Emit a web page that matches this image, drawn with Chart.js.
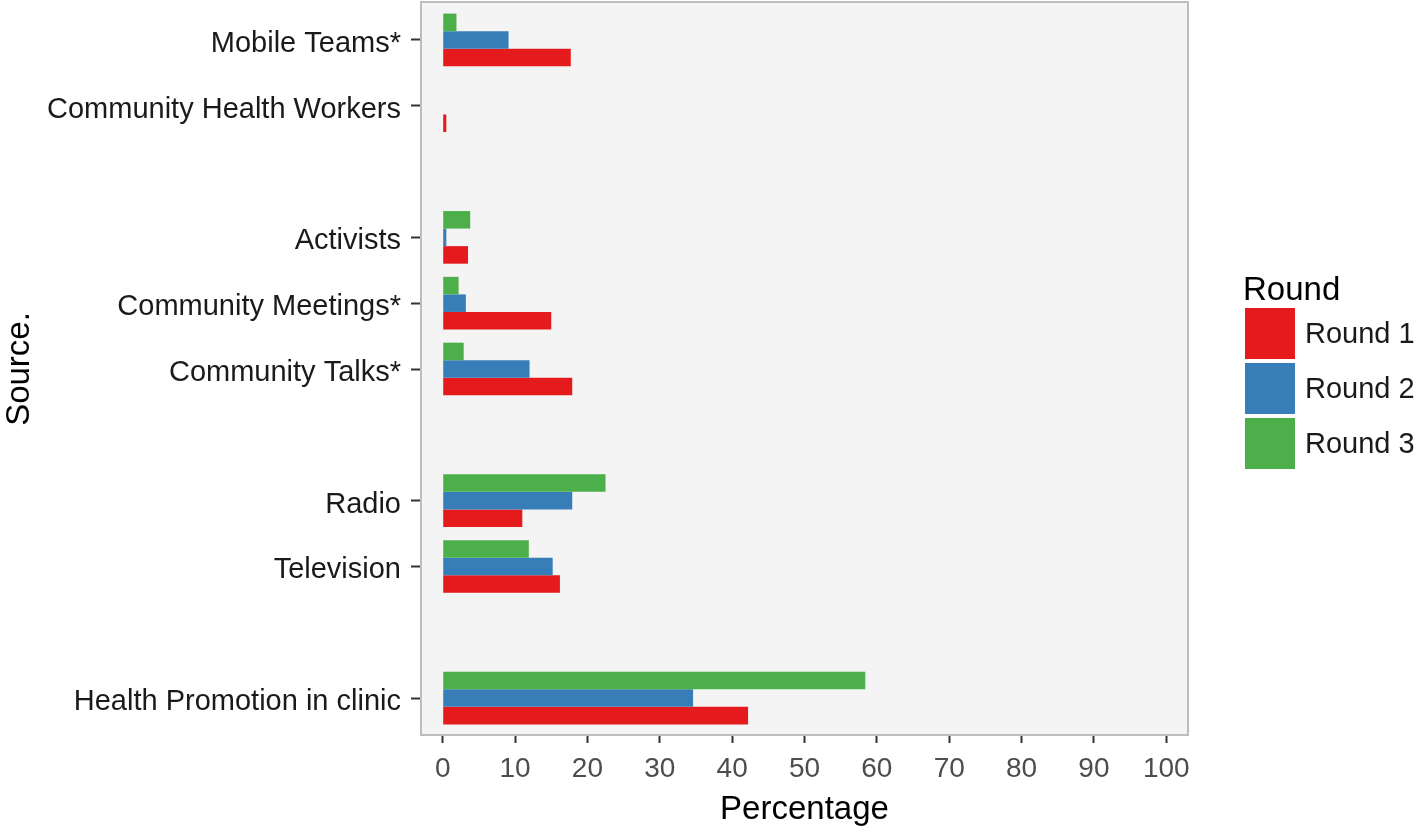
<!DOCTYPE html>
<html>
<head>
<meta charset="utf-8">
<script src="https://cdn.jsdelivr.net/npm/chart.js@4.4.1/dist/chart.umd.min.js"></script>
<style>
body { margin: 0; background: #fff; }
#wrap { position: relative; width: 1418px; height: 832px; }
#legend { position: absolute; left: 1243px; top: 270px; font-family: 'Liberation Sans', Arial, sans-serif; color: #000; }
#legend .title { font-size: 33px; line-height: 38px; height: 38px; }
#legend .item { position: relative; height: 55px; }
#legend .box { position: absolute; left: 2px; top: 0; width: 50px; height: 51px; }
#legend .lab { position: absolute; left: 62px; top: 0; line-height: 51px; font-size: 29px; color: #1a1a1a; white-space: nowrap; }
</style>
</head>
<body>
<div id="wrap">
  <canvas id="chart"></canvas>
  <div id="legend"><div class="title">Round</div></div>
</div>
<script>
// Categories top to bottom ('' = empty spacer rows)
const sources = ['Mobile Teams*', 'Community Health Workers', '', 'Activists', 'Community Meetings*',
  'Community Talks*', '', 'Radio', 'Television', '', 'Health Promotion in clinic'];
const round1 = [17.7, 0.5, null, 3.5, 15.0, 17.9, null, 11.0, 16.2, null, 42.2];
const round2 = [9.1, null, null, 0.5, 3.2, 12.0, null, 17.9, 15.2, null, 34.6];
const round3 = [1.9, null, null, 3.8, 2.2, 2.9, null, 22.5, 11.9, null, 58.4];
const seriesNames = ['Round 1', 'Round 2', 'Round 3'];
const seriesColors = ['#E41A1C', '#377EB8', '#4DAF4A'];
const xTicks = [0, 10, 20, 30, 40, 50, 60, 70, 80, 90, 100];

const font = "'Liberation Sans', Arial, sans-serif";
const series = [round1, round2, round3];

// Grey panel with border, drawn under the bars
const panel = {
    id: 'panel',
    beforeDatasetsDraw(chart) {
        const a = chart.chartArea, c = chart.ctx;
        c.save();
        c.fillStyle = '#F4F4F4';
        c.fillRect(a.left, a.top - 5, a.right - a.left, a.bottom - a.top + 9);
        c.strokeStyle = '#BDBDBD';
        c.lineWidth = 2;
        c.strokeRect(a.left, a.top - 5, a.right - a.left, a.bottom - a.top + 9);
        c.restore();
    }
};

// Round 3 sits on top in each group, so datasets go in reverse
const datasets = [2, 1, 0].map(i => ({
    label: seriesNames[i],
    data: series[i],
    backgroundColor: seriesColors[i],
    borderWidth: 0,
    categoryPercentage: 0.8,
    barPercentage: 1.0
}));

new Chart(document.getElementById('chart'), {
    type: 'bar',
    data: { labels: sources, datasets: datasets },
    options: {
        indexAxis: 'y',
        responsive: true,
        maintainAspectRatio: false,
        animation: false,
        layout: { padding: { top: 7, right: 230, left: 0, bottom: 0 } },
        plugins: {
            legend: { display: false },
            tooltip: { enabled: false }
        },
        scales: {
            x: {
                min: -3,
                max: 103,
                afterBuildTicks: s => { s.ticks = xTicks.map(v => ({ value: v })); },
                afterFit: s => { s.height = 101; s.paddingLeft = 0; s.paddingRight = 0; },
                grid: { drawOnChartArea: false, drawTicks: true, tickLength: 12, tickWidth: 2, tickColor: '#333' },
                border: { display: false },
                ticks: { padding: 9, color: '#4D4D4D', font: { family: font, size: 28 } },
                title: { display: true, text: 'Percentage', color: '#000', font: { family: font, size: 33 }, padding: { top: 0, bottom: 2 } }
            },
            y: {
                afterFit: s => { s.width = 421; s.paddingTop = 0; s.paddingBottom = 0; },
                grid: {
                    offset: false, drawOnChartArea: false, drawTicks: true, tickLength: 10, tickWidth: 2,
                    tickColor: ctx => sources[ctx.index] ? '#333' : 'rgba(0,0,0,0)'
                },
                border: { display: false },
                ticks: { padding: 10, labelOffset: 4, autoSkip: false, color: '#1a1a1a', font: { family: font, size: 29 } },
                title: { display: true, text: 'Source.', color: '#000', font: { family: font, size: 33 }, padding: 0 }
            }
        }
    },
    plugins: [panel]
});

// Legend drawn as HTML to match the big square keys
const legend = document.getElementById('legend');
seriesNames.forEach((name, i) => {
    const item = document.createElement('div');
    item.className = 'item';
    item.innerHTML = '<div class="box" style="background:' + seriesColors[i] + '"></div><div class="lab">' + name + '</div>';
    legend.appendChild(item);
});
</script>
</body>
</html>
